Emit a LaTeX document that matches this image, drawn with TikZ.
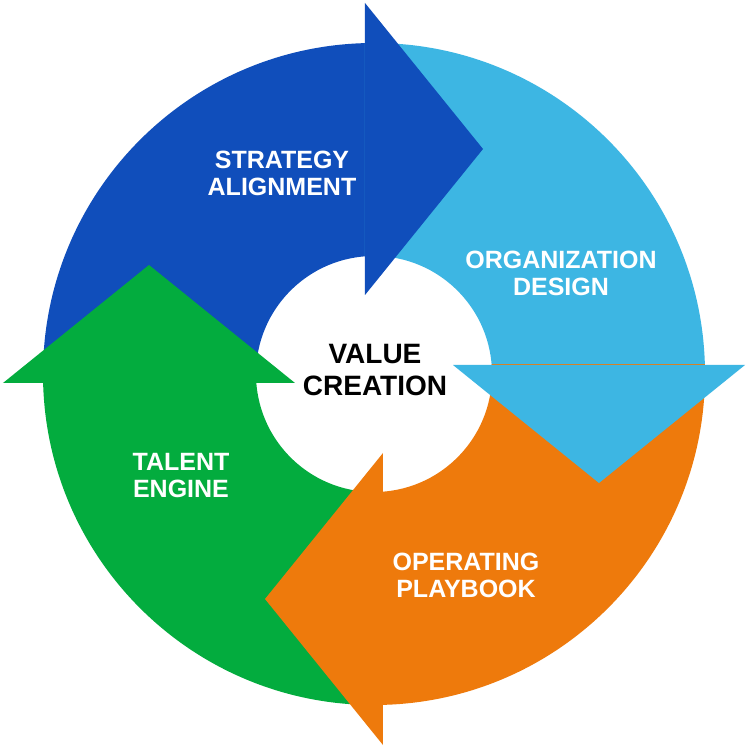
\documentclass[tikz,border=0pt]{standalone}
\usepackage{fontspec}
\newfontfamily\labfont{Liberation Sans}
\definecolor{cblue}{HTML}{104EBB}
\definecolor{clight}{HTML}{3DB6E3}
\definecolor{corange}{HTML}{EE7A0C}
\definecolor{cgreen}{HTML}{03AC3E}
\begin{document}
\begin{tikzpicture}[x=1pt,y=1pt,
  lab/.style={text=white, align=center, font=\labfont\bfseries\fontsize{25}{27}\selectfont, inner sep=0pt},
  centerlab/.style={text=black, align=center, font=\labfont\bfseries\fontsize{28}{32}\selectfont, inner sep=0pt}]
\useasboundingbox (-374,-375) rectangle (376,374);
\fill[white] (-374,-375) rectangle (376,374);
% ring sectors
\begin{scope}
  \clip (-400,-9) rectangle (-9,400);
  \fill[cblue, even odd rule] (0,0) circle (331) (0,0) circle (118);
\end{scope}
\begin{scope}
  \clip (-9,9) rectangle (400,400);
  \fill[clight, even odd rule] (0,0) circle (331) (0,0) circle (118);
\end{scope}
\begin{scope}
  \clip (9,9) rectangle (400,-400);
  \fill[corange, even odd rule] (0,0) circle (331) (0,0) circle (118);
\end{scope}
\begin{scope}
  \clip (9,-9) rectangle (-400,-400);
  \fill[cgreen, even odd rule] (0,0) circle (331) (0,0) circle (118);
\end{scope}
% arrowheads
\fill[cblue] (-9,79) -- (-9,371) -- (109,225) -- cycle;
\fill[clight] (79,9) -- (371,9) -- (225,-109) -- cycle;
\fill[corange] (9,-79) -- (9,-371) -- (-109,-225) -- cycle;
\fill[cgreen] (-79,-9) -- (-371,-9) -- (-225,109) -- cycle;
% labels
\node[lab] (strategy) at (-92,201) {STRATEGY\\ALIGNMENT};
\node[lab] (org) at (187,101) {ORGANIZATION\\DESIGN};
\node[lab] (ops) at (92,-201) {OPERATING\\PLAYBOOK};
\node[lab] (talent) at (-193,-102) {TALENT\\ENGINE};
\node[centerlab] (value) at (1,4) {VALUE\\CREATION};
\end{tikzpicture}
\end{document}
